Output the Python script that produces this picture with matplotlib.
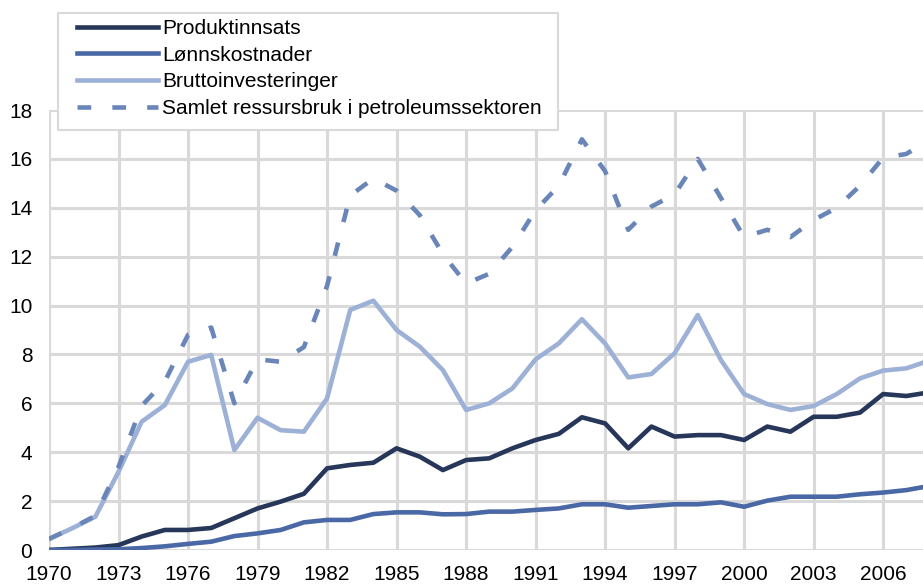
import numpy as np
import matplotlib
matplotlib.use("Agg")
import matplotlib.pyplot as plt
from matplotlib.patches import Rectangle

plt.rcParams['font.family'] = ['Liberation Sans', 'DejaVu Sans']

years = list(range(1970, 2009))

# Produktinnsats
produkt = [0.0, 0.05, 0.1, 0.2, 0.55, 0.82, 0.82, 0.9, 1.3, 1.7,
           1.98, 2.3, 3.34, 3.48, 3.57, 4.16, 3.82, 3.27, 3.68, 3.75,
           4.16, 4.5, 4.75, 5.43, 5.18, 4.16, 5.05, 4.64, 4.7, 4.7,
           4.5, 5.05, 4.84, 5.45, 5.45, 5.62, 6.38, 6.3, 6.45]
# Lønnskostnader
lonn = [0.0, 0.0, 0.02, 0.03, 0.08, 0.15, 0.25, 0.34, 0.57, 0.68,
        0.82, 1.13, 1.23, 1.23, 1.47, 1.54, 1.54, 1.46, 1.47, 1.57,
        1.57, 1.64, 1.7, 1.87, 1.87, 1.73, 1.8, 1.87, 1.87, 1.95,
        1.77, 2.02, 2.18, 2.18, 2.18, 2.28, 2.35, 2.45, 2.62]
# Bruttoinvesteringer
brutto = [0.45, 0.89, 1.36, 3.2, 5.25, 5.93, 7.7, 7.98, 4.09, 5.41,
          4.9, 4.84, 6.2, 9.82, 10.2, 9.0, 8.32, 7.36, 5.73, 6.0,
          6.61, 7.8, 8.45, 9.44, 8.45, 7.06, 7.2, 8.05, 9.61, 7.77,
          6.38, 5.97, 5.73, 5.89, 6.38, 7.02, 7.34, 7.43, 7.75]
# Samlet ressursbruk
samlet = [0.45, 0.9, 1.4, 3.4, 5.9, 6.9, 8.8, 9.1, 6.0, 7.8,
          7.7, 8.3, 10.8, 14.5, 15.2, 14.7, 13.7, 12.1, 10.9, 11.3,
          12.4, 13.9, 14.9, 16.8, 15.5, 13.1, 14.05, 14.55, 16.0, 14.4,
          12.8, 13.1, 12.8, 13.5, 14.0, 14.9, 16.05, 16.2, 16.8]

labels = ["Produktinnsats", "Lønnskostnader", "Bruttoinvesteringer",
          "Samlet ressursbruk i petroleumssektoren"]

W, H = 923, 585
fig = plt.figure(figsize=(W / 100, H / 100), dpi=100)
ax = fig.add_axes([49 / W, 1 - 550 / H, 1 - 49 / W, 440 / H])

lw = 3.3
ax.plot(years, produkt, color="#26375A", lw=lw, label=labels[0], zorder=3)
ax.plot(years, lonn, color="#4A68A5", lw=lw, label=labels[1], zorder=3)
ax.plot(years, brutto, color="#9DB0D6", lw=lw, label=labels[2], zorder=3)
ax.plot(years, samlet, color="#6A86B9", lw=lw, dashes=(3.0, 4.6),
        dash_capstyle="butt", label=labels[3], zorder=3)

ax.set_xlim(1970, 1970 + 874 / 23.17)
ax.set_ylim(0, 18)
ax.set_xticks(range(1970, 2007, 3))
ax.set_yticks(range(0, 19, 2))
ax.grid(True, color="#D9D9D9", lw=2.2, zorder=0)
ax.set_axisbelow(True)
for s in ax.spines.values():
    s.set_visible(False)
ax.tick_params(axis="both", length=0, labelsize=15)
ax.tick_params(axis="y", pad=12)
ax.tick_params(axis="x", pad=11)

# legend box drawn separately (wider left padding than matplotlib's)
fig.patches.append(Rectangle((58 / W, 1 - 130 / H), 500 / W, 117 / H,
                             transform=fig.transFigure, facecolor="white",
                             edgecolor="#D9D9D9", lw=1.5, zorder=5))
leg = fig.legend(loc="upper left", bbox_to_anchor=(77 / W, 1 - 19 / H),
                 fontsize=15, handlelength=3.9, handletextpad=0.2,
                 labelspacing=0.37, borderpad=0, borderaxespad=0,
                 frameon=False)
leg.set_zorder(6)

fig.savefig("out.png", dpi=100)
